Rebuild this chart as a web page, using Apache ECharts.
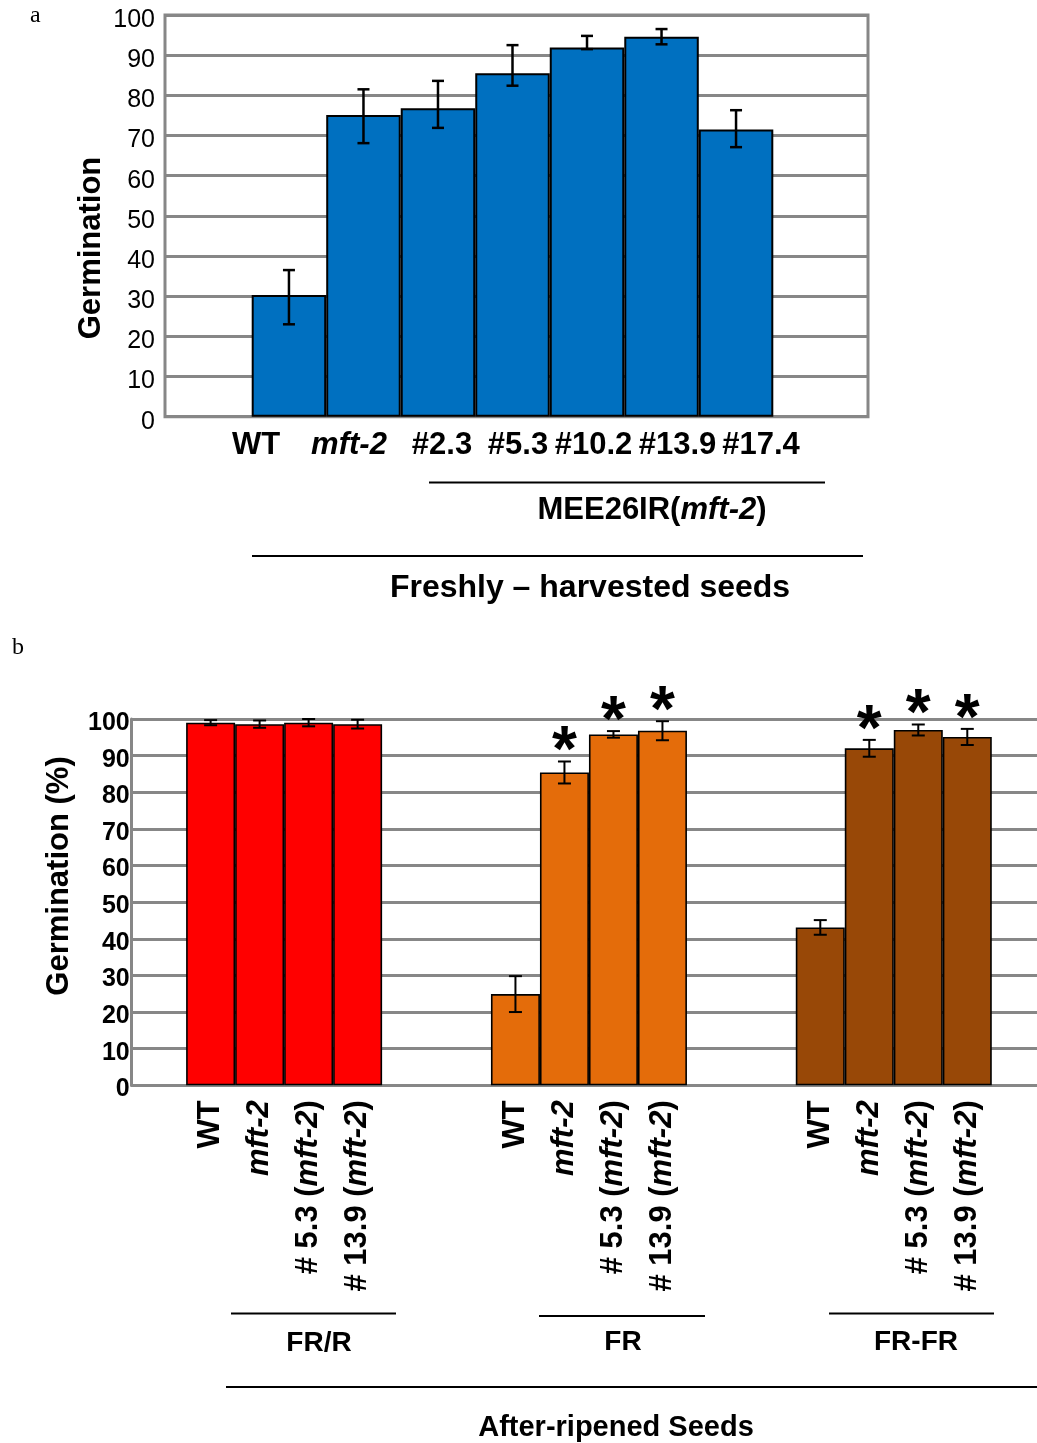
<!DOCTYPE html>
<html>
<head>
<meta charset="utf-8">
<script src="https://cdn.jsdelivr.net/npm/echarts@6/dist/echarts.min.js"></script>
<style>
  html, body { margin: 0; padding: 0; background: #fff; }
  #chart { width: 1037px; height: 1443px; }
</style>
</head>
<body>
<div id="chart"></div>
<script>
// ---- Panel a: freshly harvested seeds ----
const linesA = ['WT', 'mft-2', '#2.3', '#5.3', '#10.2', '#13.9', '#17.4'];
const germA = [30.3, 75.1, 76.8, 85.5, 91.9, 94.6, 71.5];
const errUpA = [6.2, 6.4, 6.8, 7.0, 2.9, 1.9, 4.8];
const errDownA = [7.3, 7.0, 4.9, 3.1, 0.4, 1.9, 4.4];
const groupA = 'MEE26IR(mft-2)';
const titleA = 'Freshly \u2013 harvested seeds';

// ---- Panel b: after-ripened seeds ----
const treatments = ['FR/R', 'FR', 'FR-FR'];
const genotypes = ['WT', 'mft-2', '# 5.3 (mft-2)', '# 13.9 (mft-2)'];
const germWT = [99.0, 24.9, 43.1];
const germMft2 = [98.6, 85.4, 92.0];
const germL53 = [99.0, 95.8, 97.0];
const germL139 = [98.6, 96.8, 95.1];
const errWT = [0.7, 4.9, 2.0];
const errMft2 = [1.0, 3.0, 2.3];
const errL53 = [1.0, 0.9, 1.5];
const errL139 = [1.2, 2.6, 2.2];
const starWT = [0, 0, 0];
const starMft2 = [0, 1, 1];
const starL53 = [0, 1, 1];
const starL139 = [0, 1, 1];
const titleB = 'After-ripened Seeds';

const yTicks = [0, 10, 20, 30, 40, 50, 60, 70, 80, 90, 100];

// ---- styling / layout ----
const SANS = '"Liberation Sans", Arial, Helvetica, sans-serif';
const SERIF = '"Liberation Serif", "Times New Roman", serif';
const GRID_GRAY = '#878787';
const BLUE = '#0070C0';
const TREAT_COLORS = ['#FF0000', '#E46C0A', '#984807'];
const BAR_W_B = 49;
const LABEL_X_A = [256, 349, 442, 518, 593.5, 677.5, 761];

// Turn "xxx (mft-2)" into rich text with the allele name in italics.
function richName(name) {
  return '{n|' + name.replace('mft-2', '}{i|mft-2}{n|') + '}';
}

const gB = [germWT, germMft2, germL53, germL139];
const eB = [errWT, errMft2, errL53, errL139];
const sB = [starWT, starMft2, starL53, starL139];

function errRenderA(params, api) {
  const i = api.value(0);
  const x = api.coord([i, 0])[0];
  const yh = api.coord([i, api.value(1)])[1];
  const yl = api.coord([i, api.value(2)])[1];
  const st = { stroke: '#000', lineWidth: 2.5 };
  const c = 6;
  return {
    type: 'group',
    children: [
      { type: 'line', shape: { x1: x, y1: yh, x2: x, y2: yl }, style: st },
      { type: 'line', shape: { x1: x - c, y1: yh, x2: x + c, y2: yh }, style: st },
      { type: 'line', shape: { x1: x - c, y1: yl, x2: x + c, y2: yl }, style: st }
    ]
  };
}

function makeRenderB(g) {
  return function (params, api) {
    const t = api.value(0);
    const v = api.value(1);
    const e = api.value(2);
    const star = api.value(3);
    const base = api.coord([t, 0]);
    const x = base[0] + (g - 1.5) * BAR_W_B;
    const yh = api.coord([t, v + e])[1];
    const yl = api.coord([t, v - e])[1];
    const st = { stroke: '#000', lineWidth: 2 };
    const c = 6.5;
    const children = [
      { type: 'line', shape: { x1: x, y1: yh, x2: x, y2: yl }, style: st },
      { type: 'line', shape: { x1: x - c, y1: yh, x2: x + c, y2: yh }, style: st },
      { type: 'line', shape: { x1: x - c, y1: yl, x2: x + c, y2: yl }, style: st },
      {
        type: 'text', x: x, y: base[1] + 15, rotation: Math.PI / 2,
        style: {
          text: richName(genotypes[g]), align: 'right', verticalAlign: 'middle',
          rich: {
            n: { font: 'bold 31px ' + SANS, fill: '#000' },
            i: { font: 'italic bold 31px ' + SANS, fill: '#000' }
          }
        }
      }
    ];
    if (star) {
      children.push({
        type: 'text', x: x, y: yh - 8,
        style: { text: '*', font: 'bold 64px ' + SANS, fill: '#000', align: 'center', verticalAlign: 'middle' }
      });
    }
    return { type: 'group', children: children };
  };
}

const seriesB = [];
genotypes.forEach(function (name, g) {
  seriesB.push({
    type: 'bar', name: name, xAxisIndex: 2, yAxisIndex: 2,
    barWidth: BAR_W_B, barGap: '0%',
    data: gB[g].map(function (v, t) {
      return { value: v, itemStyle: { color: TREAT_COLORS[t] } };
    }),
    itemStyle: { borderColor: '#000', borderWidth: 1.6 },
    z: 2
  });
});
genotypes.forEach(function (name, g) {
  seriesB.push({
    type: 'custom', xAxisIndex: 2, yAxisIndex: 2,
    data: gB[g].map(function (v, t) { return [t, v, eB[g][t], sB[g][t]]; }),
    renderItem: makeRenderB(g),
    z: 4
  });
});

const graphics = [
  { type: 'text', x: 30, y: 16, style: { text: 'a', font: '24px ' + SERIF, fill: '#000', align: 'left', verticalAlign: 'middle' } },
  { type: 'text', x: 12, y: 648, style: { text: 'b', font: '24px ' + SERIF, fill: '#000', align: 'left', verticalAlign: 'middle' } },
  { type: 'text', x: 91, y: 248, rotation: Math.PI / 2, style: { text: 'Germination', font: 'bold 31px ' + SANS, fill: '#000', align: 'center', verticalAlign: 'middle' } },
  { type: 'text', x: 59, y: 876, rotation: Math.PI / 2, style: { text: 'Germination (%)', font: 'bold 31px ' + SANS, fill: '#000', align: 'center', verticalAlign: 'middle' } },
  // panel a group captions
  { type: 'line', shape: { x1: 429, y1: 482.5, x2: 825, y2: 482.5 }, style: { stroke: '#000', lineWidth: 2 } },
  {
    type: 'text', x: 652, y: 510,
    style: {
      text: richName(groupA), align: 'center', verticalAlign: 'middle',
      rich: { n: { font: 'bold 31px ' + SANS, fill: '#000' }, i: { font: 'italic bold 31px ' + SANS, fill: '#000' } }
    }
  },
  { type: 'line', shape: { x1: 252, y1: 556, x2: 863, y2: 556 }, style: { stroke: '#000', lineWidth: 2 } },
  { type: 'text', x: 590, y: 588, style: { text: titleA, font: 'bold 32px ' + SANS, fill: '#000', align: 'center', verticalAlign: 'middle' } },
  // panel b group captions
  { type: 'line', shape: { x1: 231, y1: 1313.5, x2: 396, y2: 1313.5 }, style: { stroke: '#000', lineWidth: 2 } },
  { type: 'line', shape: { x1: 539, y1: 1316, x2: 705, y2: 1316 }, style: { stroke: '#000', lineWidth: 2 } },
  { type: 'line', shape: { x1: 829, y1: 1313.5, x2: 994, y2: 1313.5 }, style: { stroke: '#000', lineWidth: 2 } },
  { type: 'text', x: 319, y: 1343, style: { text: treatments[0], font: 'bold 28px ' + SANS, fill: '#000', align: 'center', verticalAlign: 'middle' } },
  { type: 'text', x: 623, y: 1342, style: { text: treatments[1], font: 'bold 28px ' + SANS, fill: '#000', align: 'center', verticalAlign: 'middle' } },
  { type: 'text', x: 916, y: 1342, style: { text: treatments[2], font: 'bold 28px ' + SANS, fill: '#000', align: 'center', verticalAlign: 'middle' } },
  { type: 'line', shape: { x1: 226, y1: 1387, x2: 1037, y2: 1387 }, style: { stroke: '#000', lineWidth: 2 } },
  { type: 'text', x: 616, y: 1428, style: { text: titleB, font: 'bold 29px ' + SANS, fill: '#000', align: 'center', verticalAlign: 'middle' } }
];
// panel a strain labels below the bars
linesA.forEach(function (name, i) {
  graphics.push({
    type: 'text', x: LABEL_X_A[i], y: 445,
    style: {
      text: richName(name), align: 'center', verticalAlign: 'middle',
      rich: { n: { font: 'bold 31px ' + SANS, fill: '#000' }, i: { font: 'italic bold 31px ' + SANS, fill: '#000' } }
    }
  });
});

const splitStyle = { show: true, lineStyle: { color: GRID_GRAY, width: 3 } };

const option = {
  animation: false,
  backgroundColor: '#fff',
  grid: [
    { left: 165, top: 15, width: 703, height: 401.7, show: true, borderColor: GRID_GRAY, borderWidth: 3, backgroundColor: 'transparent', outerBoundsMode: 'none', containLabel: false },
    { left: 251.7, top: 15, width: 521.6, height: 401.7, outerBoundsMode: 'none', containLabel: false },
    { left: 131.7, top: 719, width: 914.5, height: 366.3, outerBoundsMode: 'none', containLabel: false }
  ],
  xAxis: [
    { gridIndex: 0, type: 'value', min: 0, max: 1, show: false },
    { gridIndex: 1, type: 'category', data: linesA, show: false },
    {
      gridIndex: 2, type: 'category', data: treatments,
      axisLine: { show: true, lineStyle: { color: GRID_GRAY, width: 3 } },
      axisTick: { show: false }, axisLabel: { show: false }, splitLine: { show: false }
    }
  ],
  yAxis: [
    {
      gridIndex: 0, type: 'value', min: yTicks[0], max: yTicks[yTicks.length - 1], interval: 10,
      axisLine: { show: false }, axisTick: { show: false },
      splitLine: splitStyle,
      axisLabel: { color: '#000', fontFamily: SANS, fontSize: 25, margin: 10, verticalAlign: 'top', lineHeight: 10 }
    },
    { gridIndex: 1, type: 'value', min: 0, max: 100, show: false },
    {
      gridIndex: 2, type: 'value', min: yTicks[0], max: yTicks[yTicks.length - 1], interval: 10,
      axisLine: { show: true, lineStyle: { color: GRID_GRAY, width: 3 } }, axisTick: { show: false },
      splitLine: splitStyle,
      axisLabel: { color: '#000', fontFamily: SANS, fontSize: 25, fontWeight: 'bold', margin: 2, verticalAlign: 'top', lineHeight: 8 }
    }
  ],
  series: [
    {
      type: 'bar', xAxisIndex: 1, yAxisIndex: 1, data: germA,
      barCategoryGap: '0%',
      itemStyle: { color: BLUE, borderColor: '#000', borderWidth: 2 },
      z: 2
    },
    {
      type: 'custom', xAxisIndex: 1, yAxisIndex: 1,
      data: linesA.map(function (n, i) { return [i, germA[i] + errUpA[i], germA[i] - errDownA[i]]; }),
      renderItem: errRenderA,
      z: 4
    }
  ].concat(seriesB),
  graphic: graphics
};

const chart = echarts.init(document.getElementById('chart'), null, { renderer: 'canvas' });
chart.setOption(option);
</script>
</body>
</html>
